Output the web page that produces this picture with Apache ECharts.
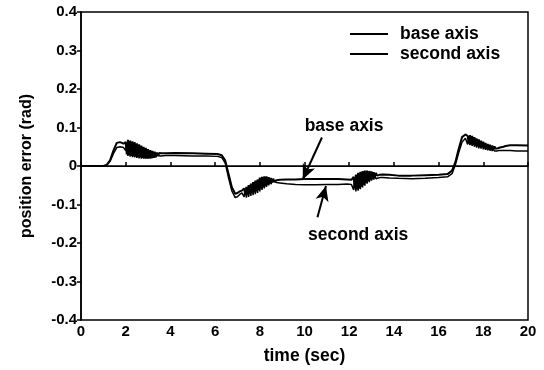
<!DOCTYPE html>
<html>
<head>
<meta charset="utf-8">
<script src="https://cdn.jsdelivr.net/npm/echarts@6/dist/echarts.min.js"></script>
<style>
html, body { margin: 0; padding: 0; background: #fff; }
#chart { width: 544px; height: 370px; }
</style>
</head>
<body>
<div id="chart"></div>
<script>
// time (sec) sample points, one line per stretch of the trace
var times = [
	0, 0.5, 1.0, 1.15, 1.3, 1.45, 1.6, 1.75, 1.9,
	2.0, 2.05, 2.1, 2.15, 2.2, 2.25, 2.3, 2.35, 2.4, 2.45, 2.5, 2.55, 2.6, 2.65, 2.7, 2.75, 2.8, 2.85, 2.9, 2.95, 3.0, 3.05, 3.1, 3.15, 3.2, 3.25, 3.3, 3.35, 3.4, 3.45, 3.5, 3.55, 3.6,
	3.8, 4.2, 5.0, 5.6, 6.1, 6.3, 6.45, 6.6, 6.75, 6.9, 7.0, 7.1, 7.2,
	7.3, 7.35, 7.4, 7.45, 7.5, 7.55, 7.6, 7.65, 7.7, 7.75, 7.8, 7.85, 7.9, 7.95, 8.0, 8.05, 8.1, 8.15, 8.2, 8.25, 8.3, 8.35, 8.4, 8.45, 8.5, 8.55, 8.6, 8.65, 8.7, 8.75, 8.8,
	8.9, 9.2, 9.6, 10.0, 10.5, 11.0, 11.5, 11.9, 12.1,
	12.2, 12.25, 12.3, 12.35, 12.4, 12.45, 12.5, 12.55, 12.6, 12.65, 12.7, 12.75, 12.8, 12.85, 12.9, 12.95, 13.0, 13.05, 13.1, 13.15, 13.2, 13.25, 13.3, 13.35, 13.4,
	13.5, 13.8, 14.2, 14.8, 15.4, 16.0, 16.4, 16.6, 16.75, 16.9, 17.05, 17.2,
	17.3, 17.35, 17.4, 17.45, 17.5, 17.55, 17.6, 17.65, 17.7, 17.75, 17.8, 17.85, 17.9, 17.95, 18.0, 18.05, 18.1, 18.15, 18.2, 18.25, 18.3, 18.35, 18.4, 18.45, 18.5, 18.55, 18.6, 18.65, 18.7, 18.75, 18.8,
	18.9, 19.0, 19.2, 19.5, 20
];

// position error (rad)
var baseAxis = [
	0, 0, 0, 0.003, 0.015, 0.04, 0.06, 0.062, 0.058,
	0.062, 0.030, 0.068, 0.028, 0.066, 0.026, 0.064, 0.025, 0.062, 0.024, 0.059, 0.023, 0.056, 0.022, 0.053, 0.021, 0.050, 0.020, 0.047, 0.020, 0.044, 0.020, 0.041, 0.020, 0.039, 0.021, 0.037, 0.023, 0.035, 0.026, 0.034, 0.029, 0.033,
	0.033, 0.034, 0.033, 0.032, 0.031, 0.028, 0.015, -0.02, -0.055, -0.072, -0.07, -0.066, -0.064,
	-0.058, -0.074, -0.054, -0.072, -0.050, -0.072, -0.046, -0.070, -0.042, -0.068, -0.038, -0.066, -0.035, -0.062, -0.030, -0.058, -0.028, -0.055, -0.027, -0.051, -0.027, -0.048, -0.029, -0.045, -0.031, -0.042, -0.033, -0.040, -0.035, -0.037, -0.036,
	-0.036, -0.035, -0.035, -0.034, -0.034, -0.034, -0.034, -0.035, -0.036,
	-0.028, -0.058, -0.022, -0.060, -0.018, -0.058, -0.015, -0.054, -0.013, -0.049, -0.012, -0.044, -0.012, -0.039, -0.013, -0.035, -0.014, -0.031, -0.016, -0.028, -0.018, -0.025, -0.020, -0.023, -0.022,
	-0.022, -0.023, -0.025, -0.025, -0.024, -0.023, -0.021, -0.012, 0.01, 0.045, 0.075, 0.082,
	0.078, 0.058, 0.080, 0.056, 0.078, 0.055, 0.075, 0.053, 0.072, 0.052, 0.069, 0.050, 0.066, 0.049, 0.063, 0.047, 0.060, 0.046, 0.057, 0.045, 0.055, 0.044, 0.053, 0.044, 0.051, 0.045, 0.050, 0.046, 0.049, 0.048, 0.049,
	0.050, 0.052, 0.054, 0.054, 0.053
];

var secondAxis = [
	0, 0, 0, 0.002, 0.012, 0.032, 0.048, 0.05, 0.048,
	0.040, 0.058, 0.026, 0.058, 0.024, 0.056, 0.023, 0.054, 0.022, 0.051, 0.021, 0.048, 0.020, 0.045, 0.019, 0.042, 0.019, 0.039, 0.019, 0.036, 0.019, 0.034, 0.020, 0.032, 0.021, 0.030, 0.022, 0.028, 0.024, 0.027, 0.025, 0.026, 0.026,
	0.027, 0.027, 0.026, 0.026, 0.025, 0.022, 0.008, -0.03, -0.065, -0.082, -0.08, -0.074, -0.07,
	-0.080, -0.060, -0.082, -0.056, -0.080, -0.053, -0.078, -0.050, -0.076, -0.047, -0.073, -0.044, -0.070, -0.041, -0.066, -0.038, -0.062, -0.036, -0.058, -0.036, -0.054, -0.037, -0.050, -0.038, -0.047, -0.040, -0.045, -0.041, -0.044, -0.043, -0.043,
	-0.044, -0.046, -0.048, -0.049, -0.049, -0.048, -0.048, -0.047, -0.048,
	-0.062, -0.032, -0.066, -0.028, -0.064, -0.025, -0.060, -0.022, -0.056, -0.020, -0.051, -0.020, -0.046, -0.021, -0.042, -0.022, -0.038, -0.024, -0.035, -0.026, -0.033, -0.028, -0.031, -0.029, -0.030,
	-0.030, -0.031, -0.032, -0.033, -0.032, -0.030, -0.028, -0.02, 0.003, 0.035, 0.062, 0.072,
	0.056, 0.074, 0.054, 0.072, 0.052, 0.070, 0.050, 0.067, 0.048, 0.064, 0.046, 0.061, 0.045, 0.058, 0.043, 0.055, 0.042, 0.052, 0.041, 0.049, 0.040, 0.047, 0.039, 0.045, 0.039, 0.043, 0.039, 0.041, 0.040, 0.040, 0.040,
	0.040, 0.040, 0.040, 0.039, 0.039
];

// annotations: text positions and arrows (time, error)
var noteLabels = [
	{ name: 'base axis', value: [11.77, 0.103] },
	{ name: 'second axis', value: [12.4, -0.18] }
];
var baseArrow = [[10.78, 0.074], [9.92, -0.035]];
var secondArrow = [[10.58, -0.133], [10.96, -0.052]];

var font = '"Liberation Sans", Arial, Helvetica, sans-serif';

function pairs(vals) {
	return times.map(function(t, i) { return [t, vals[i]]; });
}

var myChart = echarts.init(document.getElementById('chart'));

var option = {
	animation: false,
	backgroundColor: '#fff',
	textStyle: { fontFamily: font, color: '#000' },
	grid: {
		left: 81,
		right: 16,
		top: 12,
		bottom: 46,
		show: true,
		borderColor: '#000',
		borderWidth: 1.5
	},
	legend: {
		data: ['base axis', 'second axis'],
		orient: 'vertical',
		left: 345,
		top: 20,
		icon: 'rect',
		itemWidth: 38,
		itemHeight: 2,
		itemGap: 2,
		textStyle: { fontFamily: font, fontWeight: 'bold', fontSize: 17.5, color: '#000', padding: [0, 0, 0, 7] }
	},
	xAxis: {
		type: 'value',
		min: 0,
		max: 20,
		interval: 2,
		name: 'time (sec)',
		nameLocation: 'middle',
		nameGap: 27,
		nameTextStyle: { fontFamily: font, fontWeight: 'bold', fontSize: 17.5, color: '#000' },
		axisLine: { lineStyle: { color: '#000', width: 1.5 } },
		axisTick: { inside: true, length: 4, lineStyle: { color: '#000', width: 1.5 } },
		axisLabel: { margin: 4, fontFamily: font, fontWeight: 'bold', fontSize: 15, color: '#000' },
		splitLine: { show: false }
	},
	yAxis: {
		type: 'value',
		min: -0.4,
		max: 0.4,
		interval: 0.1,
		name: 'position error (rad)',
		nameLocation: 'middle',
		nameGap: 46,
		nameTextStyle: { fontFamily: font, fontWeight: 'bold', fontSize: 16, color: '#000' },
		axisLine: { lineStyle: { color: '#000', width: 1.5 } },
		axisTick: { length: 4, lineStyle: { color: '#000', width: 1.5 } },
		axisLabel: {
			margin: 4,
			fontFamily: font,
			fontWeight: 'bold',
			fontSize: 15,
			color: '#000',
			formatter: function(v) { return Math.abs(v) < 1e-9 ? '0' : v.toFixed(1); }
		},
		splitLine: { show: false }
	},
	series: [{
		name: 'base axis',
		type: 'line',
		symbol: 'none',
		data: pairs(baseAxis),
		lineStyle: { color: '#000', width: 2 },
		itemStyle: { color: '#000' },
		markLine: {
			silent: true,
			symbol: ['none', 'none'],
			label: { show: false },
			lineStyle: { color: '#000', width: 1, type: 'solid' },
			data: [{ yAxis: 0 }]
		}
	}, {
		name: 'second axis',
		type: 'line',
		symbol: 'none',
		data: pairs(secondAxis),
		lineStyle: { color: '#000', width: 1.5 },
		itemStyle: { color: '#000' }
	}, {
		name: 'notes',
		type: 'scatter',
		symbolSize: 1,
		data: noteLabels,
		itemStyle: { color: '#fff', opacity: 1 },
		label: {
			show: true,
			position: 'inside',
			formatter: '{b}',
			fontFamily: font,
			fontWeight: 'bold',
			fontSize: 17.5,
			color: '#000',
			opacity: 1
		},
		markLine: {
			silent: true,
			symbol: ['none', 'arrow'],
			symbolSize: [10, 15],
			label: { show: false },
			itemStyle: { color: '#000', opacity: 1 },
			lineStyle: { color: '#000', width: 2, type: 'solid', opacity: 1 },
			data: [
				[{ coord: baseArrow[0] }, { coord: baseArrow[1] }],
				[{ coord: secondArrow[0] }, { coord: secondArrow[1] }]
			]
		}
	}]
};

myChart.setOption(option);
</script>
</body>
</html>
